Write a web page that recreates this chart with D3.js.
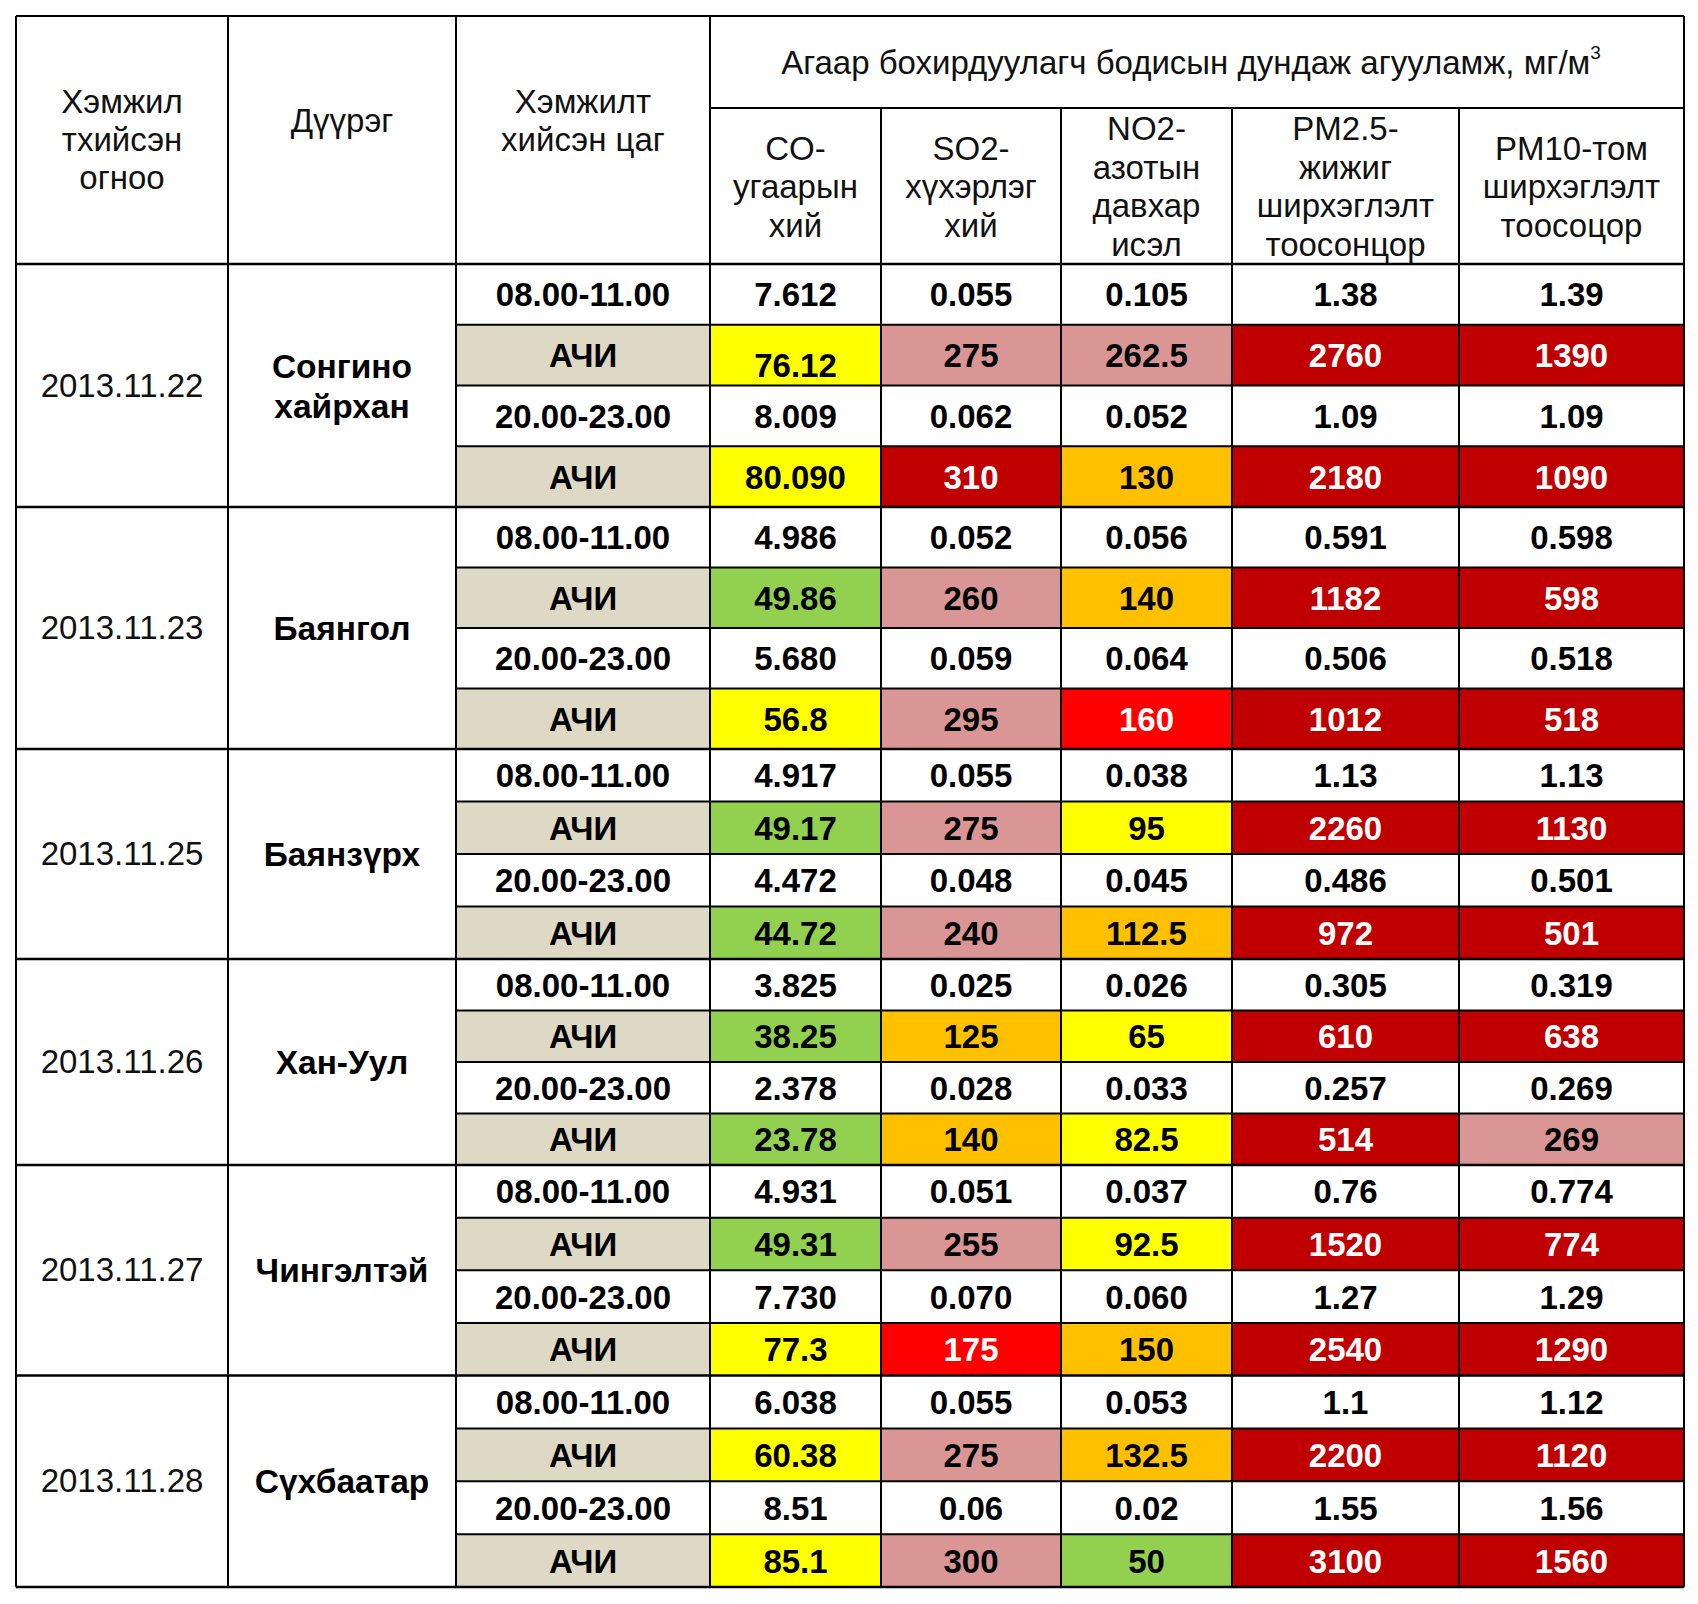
<!DOCTYPE html>
<html><head><meta charset="utf-8">
<script src="https://cdn.jsdelivr.net/npm/d3@7"></script>
<style>html,body{margin:0;padding:0;background:#fff;}svg{display:block;}</style>
</head><body>
<svg id="c" width="1698" height="1604"></svg>
<script>
// ---------- DATA ----------
const dates = ["2013.11.22","2013.11.23","2013.11.25","2013.11.26","2013.11.27","2013.11.28"];
const districts = [["Сонгино","хайрхан"],["Баянгол"],["Баянзүрх"],["Хан-Уул"],["Чингэлтэй"],["Сүхбаатар"]];
const times = ["08.00-11.00","АЧИ","20.00-23.00","АЧИ"];
const pollutantHeaders = [["CO-","угаарын","хий"],["SO2-","хүхэрлэг","хий"],["NO2-","азотын","давхар","исэл"],["PM2.5-","жижиг","ширхэглэлт","тоосонцор"],["PM10-том","ширхэглэлт","тоосоцор"]];
const leftHeaders = [["Хэмжил","тхийсэн","огноо"],["Дүүрэг"],["Хэмжилт","хийсэн цаг"]];
const spanHeader = "Агаар бохирдуулагч бодисын дундаж агууламж, мг/м";
const spanSup = "3";
// measured concentrations (morning, evening) per district
const measured = [
  [["7.612","0.055","0.105","1.38","1.39"],["8.009","0.062","0.052","1.09","1.09"]],
  [["4.986","0.052","0.056","0.591","0.598"],["5.680","0.059","0.064","0.506","0.518"]],
  [["4.917","0.055","0.038","1.13","1.13"],["4.472","0.048","0.045","0.486","0.501"]],
  [["3.825","0.025","0.026","0.305","0.319"],["2.378","0.028","0.033","0.257","0.269"]],
  [["4.931","0.051","0.037","0.76","0.774"],["7.730","0.070","0.060","1.27","1.29"]],
  [["6.038","0.055","0.053","1.1","1.12"],["8.51","0.06","0.02","1.55","1.56"]]
];
// АЧИ (air quality index) values per district (morning, evening)
const aqi = [
  [["76.12","275","262.5","2760","1390"],["80.090","310","130","2180","1090"]],
  [["49.86","260","140","1182","598"],["56.8","295","160","1012","518"]],
  [["49.17","275","95","2260","1130"],["44.72","240","112.5","972","501"]],
  [["38.25","125","65","610","638"],["23.78","140","82.5","514","269"]],
  [["49.31","255","92.5","1520","774"],["77.3","175","150","2540","1290"]],
  [["60.38","275","132.5","2200","1120"],["85.1","300","50","3100","1560"]]
];
// АЧИ class per cell: G, Y, O, P, R, D
const aqiClass = [
  [["Y","P","P","D","D"],["Y","D","O","D","D"]],
  [["G","P","O","D","D"],["Y","P","R","D","D"]],
  [["G","P","Y","D","D"],["G","P","O","D","D"]],
  [["G","O","Y","D","D"],["G","O","Y","D","P"]],
  [["G","P","Y","D","D"],["Y","R","O","D","D"]],
  [["Y","P","O","D","D"],["Y","P","G","D","D"]]
];

// ---------- STYLE / LAYOUT ----------
const fillScale = d3.scaleOrdinal().domain(["G","Y","O","P","R","D","L","W"])
  .range(["#92D050","#FFFF00","#FFC000","#DA9694","#FF0000","#C00000","#DDD9C4","#FFFFFF"]);
const textScale = d3.scaleOrdinal().domain(["G","Y","O","P","R","D","L","W"])
  .range(["#000","#000","#000","#000","#fff","#fff","#000","#000"]);

const colWidths = [212, 228, 254, 171, 180, 171, 227, 225];
const colEdges = [16, ...d3.cumsum(colWidths).map(v => 16 + v)];
const x = d3.scaleOrdinal().domain(d3.range(9)).range(colEdges);

const groupHeights = [243, 242, 210, 206, 210.5, 211.5];
const headerTop = 16, subTop = 108, headerBottom = 264;
const groupEdges = [headerBottom, ...d3.cumsum(groupHeights).map(v => headerBottom + v)];
const yGroup = d3.scaleOrdinal().domain(d3.range(7)).range(groupEdges);
const rowY = (g, r) => yGroup(g) + (yGroup(g+1) - yGroup(g)) * r / 4;

const svg = d3.select("#c");
const font = "'Liberation Sans', Arial, sans-serif";

// build body cells
const cells = [];
dates.forEach((dt, g) => {
  for (let r = 0; r < 4; r++) {
    const isAqi = r % 2 === 1;
    const half = Math.floor(r / 2);
    cells.push({g, r, c: 2, text: times[r], cls: isAqi ? "L" : "W"});
    for (let k = 0; k < 5; k++) {
      const v = isAqi ? aqi[g][half][k] : measured[g][half][k];
      const cls = isAqi ? aqiClass[g][half][k] : "W";
      cells.push({g, r, c: 3 + k, text: v, cls});
    }
  }
});

svg.append("g").selectAll("rect").data(cells).join("rect")
  .attr("x", d => x(d.c)).attr("y", d => rowY(d.g, d.r))
  .attr("width", d => x(d.c+1) - x(d.c)).attr("height", d => rowY(d.g, d.r+1) - rowY(d.g, d.r))
  .attr("fill", d => fillScale(d.cls));

svg.append("g").selectAll("text").data(cells).join("text")
  .attr("x", d => (x(d.c) + x(d.c+1)) / 2)
  .attr("y", d => (rowY(d.g, d.r) + rowY(d.g, d.r+1)) / 2 + 12 + (d.g===0 && d.r===1 && d.c===3 ? 10 : 0))
  .attr("text-anchor", "middle")
  .attr("font-family", font).attr("font-weight", "bold").attr("font-size", 33)
  .attr("fill", d => textScale(d.cls))
  .text(d => d.text);

// dates and districts
const gcenters = dates.map((d, g) => (yGroup(g) + yGroup(g+1)) / 2);
svg.append("g").selectAll("text").data(dates).join("text")
  .attr("x", (x(0)+x(1))/2).attr("y", (d, g) => gcenters[g] + 11)
  .attr("text-anchor", "middle").attr("font-family", font).attr("font-size", 33).attr("fill", "#111")
  .text(d => d);

const dg = svg.append("g").selectAll("text").data(districts).join("text")
  .attr("text-anchor", "middle").attr("font-family", font).attr("font-weight", "bold").attr("font-size", 33.5).attr("fill", "#000");
dg.selectAll("tspan").data((d, g) => d.map((t, i) => ({t, i, n: d.length, g}))).join("tspan")
  .attr("x", (x(1)+x(2))/2)
  .attr("y", d => gcenters[d.g] + 12 + (d.i - (d.n-1)/2) * 40)
  .text(d => d.t);

// header
const hfs = 33;
const lh = 38.5;
const leftFirstBaseline = [113, 132, 113];
leftHeaders.forEach((lines, c) => {
  const t = svg.append("text").attr("text-anchor", "middle").attr("font-family", font).attr("font-size", hfs).attr("fill", "#111");
  lines.forEach((s, i) => t.append("tspan").attr("x", (x(c)+x(c+1))/2).attr("y", leftFirstBaseline[c] + i*38).text(s));
});
const subCenter = (subTop + headerBottom) / 2;
pollutantHeaders.forEach((lines, k) => {
  const c = 3 + k;
  const t = svg.append("text").attr("text-anchor", "middle").attr("font-family", font).attr("font-size", hfs).attr("fill", "#111");
  lines.forEach((s, i) => t.append("tspan").attr("x", (x(c)+x(c+1))/2)
    .attr("y", subCenter + 12 + (i - (lines.length-1)/2) * lh).text(s));
});
const st = svg.append("text").attr("x", (x(3)+x(8))/2 - 6).attr("y", 74)
  .attr("text-anchor", "middle").attr("font-family", font).attr("font-size", hfs).attr("fill", "#111");
st.append("tspan").text(spanHeader);
st.append("tspan").attr("font-size", 19).attr("dy", -15).text(spanSup);

// grid lines
const lines = svg.append("g").attr("stroke", "#000").attr("stroke-width", 2).attr("fill", "none");
[0,1,2,3,8].forEach(c => lines.append("line").attr("x1", x(c)).attr("x2", x(c)).attr("y1", headerTop).attr("y2", yGroup(6)));
[4,5,6,7].forEach(c => lines.append("line").attr("x1", x(c)).attr("x2", x(c)).attr("y1", subTop).attr("y2", yGroup(6)));
lines.append("line").attr("x1", x(0)).attr("x2", x(8)).attr("y1", headerTop).attr("y2", headerTop);
lines.append("line").attr("x1", x(3)).attr("x2", x(8)).attr("y1", subTop).attr("y2", subTop);
d3.range(7).forEach(g => lines.append("line").attr("x1", x(0)).attr("x2", x(8)).attr("y1", yGroup(g)).attr("y2", yGroup(g)).attr("stroke-width", 2.5));
d3.range(6).forEach(g => [1,2,3].forEach(r => lines.append("line").attr("x1", x(2)).attr("x2", x(8)).attr("y1", rowY(g, r)).attr("y2", rowY(g, r))));
</script>
</body></html>
